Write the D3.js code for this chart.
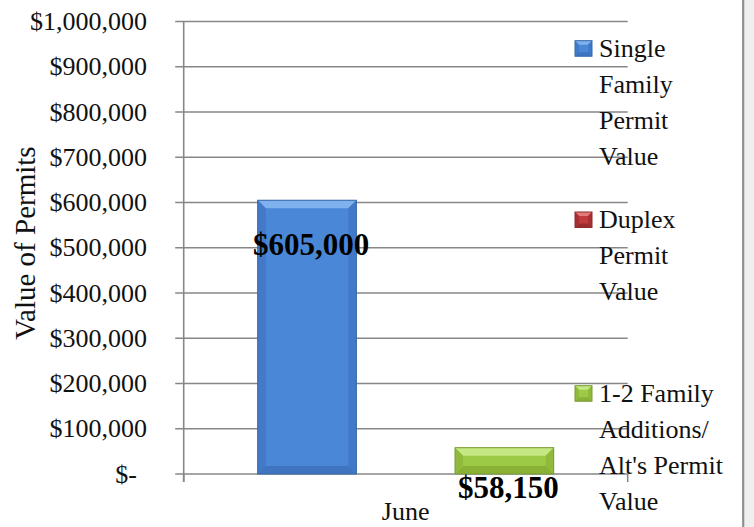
<!DOCTYPE html>
<html>
<head>
<meta charset="utf-8">
<script src="https://cdn.jsdelivr.net/npm/d3@7"></script>
<style>
  body { margin: 0; background: #ffffff; }
  svg { display: block; font-family: "Liberation Serif", "DejaVu Serif", serif; }
</style>
</head>
<body>
<div id="chart"></div>
<script>
// chart data
const MONTHS = ["June"];
const SERIES = ["Single Family Permit Value", "Duplex Permit Value", "1-2 Family Additions/ Alt's Permit Value"];
const VALUES = [605000, 0, 58150];
const VALUE_LABELS = ["$605,000", "", "$58,150"];
const Y_TICKS = [0, 100000, 200000, 300000, 400000, 500000, 600000, 700000, 800000, 900000, 1000000];
// legend text is wrapped the same way as in the picture
const LEGEND_LINES = [["Single", "Family", "Permit", "Value"],
                      ["Duplex", "Permit", "Value"],
                      ["1-2 Family", "Additions/", "Alt's Permit", "Value"]];

// frame and plot area
const WIDTH = 754;
const HEIGHT = 527;
const PLOT = {left: 183.7, right: 627.7, top: 21.5, bottom: 474};

// colours for each series: body, top bevel, side bevel, bottom bevel, edge
const COLORS = [
  {body: "#4a87d6", top: "#7fb1ee", side: "#4279c8", bottom: "#3f74c0", edge: "#3868aa"},
  {body: "#c23a3c", top: "#e47a7a", side: "#a83032", bottom: "#9a2c2e", edge: "#8e2b2d"},
  {body: "#9dca45", top: "#c6e884", side: "#8fba3b", bottom: "#88b135", edge: "#7b9c34"}
];

const SVG = d3.select("#chart")
              .append("svg")
                .attr("width", WIDTH)
                .attr("height", HEIGHT);

// scales
const Y_SCALE = d3.scaleLinear()
                  .domain([0, 1000000])
                  .range([PLOT.bottom, PLOT.top]);

const X_SCALE = d3.scaleBand()
                  .domain(MONTHS)
                  .range([PLOT.left, PLOT.right]);

// 150% gap width like the spreadsheet: category = 4.5 bar widths
const BAR_W = X_SCALE.bandwidth() / (SERIES.length + 1.5);
const X_INNER = d3.scaleBand()
                  .domain(d3.range(SERIES.length))
                  .range([0, BAR_W * SERIES.length]);
const GROUP_PAD = (X_SCALE.bandwidth() - BAR_W * SERIES.length) / 2;

// gridlines and y axis ticks
SVG.append("g")
    .selectAll("line")
    .data(Y_TICKS)
    .enter()
    .append("line")
      .attr("x1", PLOT.left - 8.5)
      .attr("x2", PLOT.right)
      .attr("y1", (d) => {return Y_SCALE(d);})
      .attr("y2", (d) => {return Y_SCALE(d);})
      .attr("stroke", "#878787")
      .attr("stroke-width", 1.6);

// y tick labels, accounting style
SVG.append("g")
    .selectAll("text")
    .data(Y_TICKS)
    .enter()
    .append("text")
      .attr("x", (d) => {return d === 0 ? 137 : 147;})
      .attr("y", (d) => {return Y_SCALE(d);})
      .attr("dy", "0.33em")
      .attr("text-anchor", "end")
      .attr("font-size", "26px")
      .attr("fill", "#111")
      .text((d) => {return d === 0 ? "$-" : "$" + d3.format(",")(d);});

// y axis line
SVG.append("line")
    .attr("x1", PLOT.left)
    .attr("x2", PLOT.left)
    .attr("y1", PLOT.top)
    .attr("y2", PLOT.bottom + 8)
    .attr("stroke", "#878787")
    .attr("stroke-width", 1.6);

// x axis ticks at the category edges
SVG.append("g")
    .selectAll("line")
    .data([PLOT.left, PLOT.right])
    .enter()
    .append("line")
      .attr("x1", (d) => {return d;})
      .attr("x2", (d) => {return d;})
      .attr("y1", PLOT.bottom)
      .attr("y2", PLOT.bottom + 8)
      .attr("stroke", "#878787")
      .attr("stroke-width", 1.6);

// x category label
SVG.append("g")
    .selectAll("text")
    .data(MONTHS)
    .enter()
    .append("text")
      .attr("x", (d) => {return X_SCALE(d) + X_SCALE.bandwidth() / 2;})
      .attr("y", 520)
      .attr("text-anchor", "middle")
      .attr("font-size", "26px")
      .attr("fill", "#111")
      .text((d) => {return d;});

// y axis title
SVG.append("text")
    .attr("transform", "translate(35," + 243 + ") rotate(-90)")
    .attr("text-anchor", "middle")
    .attr("font-size", "29px")
    .attr("fill", "#111")
    .text("Value of Permits");

// draw a bevelled box like the spreadsheet's 3d bars
function bevelBox(g, x, y, w, h, c, b) {
  if (h <= 0) return;
  b = Math.min(b, h / 2, w / 2);
  g.append("rect")
    .attr("x", x).attr("y", y).attr("width", w).attr("height", h)
    .attr("fill", c.body);
  g.append("polygon")
    .attr("points", [[x, y], [x + w, y], [x + w - b, y + b], [x + b, y + b]].join(" "))
    .attr("fill", c.top);
  g.append("polygon")
    .attr("points", [[x, y], [x + b, y + b], [x + b, y + h - b], [x, y + h]].join(" "))
    .attr("fill", c.side);
  g.append("polygon")
    .attr("points", [[x + w, y], [x + w - b, y + b], [x + w - b, y + h - b], [x + w, y + h]].join(" "))
    .attr("fill", c.side);
  g.append("polygon")
    .attr("points", [[x, y + h], [x + b, y + h - b], [x + w - b, y + h - b], [x + w, y + h]].join(" "))
    .attr("fill", c.bottom);
  g.append("rect")
    .attr("x", x).attr("y", y).attr("width", w).attr("height", h)
    .attr("fill", "none")
    .attr("stroke", c.edge)
    .attr("stroke-width", 1);
}

// bars
const BARS = SVG.append("g");
SERIES.forEach((s, i) => {
  const x = X_SCALE(MONTHS[0]) + GROUP_PAD + X_INNER(i);
  const y = Y_SCALE(VALUES[i]);
  const h = Y_SCALE(0) - y;
  const g = BARS.append("g").attr("class", "bar");
  bevelBox(g, x, y, X_INNER.bandwidth(), h, COLORS[i], 8);
});

// value labels
SVG.append("g")
    .selectAll("text")
    .data(VALUES)
    .enter()
    .append("text")
      .attr("x", (d, i) => {return X_SCALE(MONTHS[0]) + GROUP_PAD + X_INNER(i) + X_INNER.bandwidth() / 2 + 4;})
      .attr("y", (d, i) => {return i === 0 ? 255 : 498;})
      .attr("text-anchor", "middle")
      .attr("font-size", "31px")
      .attr("font-weight", "bold")
      .attr("fill", "#000")
      .text((d, i) => {return VALUE_LABELS[i];});

// legend
const LEGEND_TOP = [56.7, 228, 401.7];
const LEGEND = SVG.append("g");
LEGEND_LINES.forEach((lines, i) => {
  bevelBox(LEGEND, 575, LEGEND_TOP[i] - 16, 17, 15.5, COLORS[i], 4);
  LEGEND.append("g")
        .selectAll("text")
        .data(lines)
        .enter()
        .append("text")
          .attr("x", 599)
          .attr("y", (d, j) => {return LEGEND_TOP[i] + j * 36;})
          .attr("font-size", "26px")
          .attr("fill", "#111")
          .text((d) => {return d;});
});

// right border with its shadow
SVG.append("rect")
    .attr("x", 744)
    .attr("y", 0)
    .attr("width", 10)
    .attr("height", HEIGHT)
    .attr("fill", "#efefef");
SVG.append("line")
    .attr("x1", 743.2)
    .attr("x2", 743.2)
    .attr("y1", 0)
    .attr("y2", HEIGHT)
    .attr("stroke", "#8f8f8f")
    .attr("stroke-width", 2.2);
</script>
</body>
</html>
